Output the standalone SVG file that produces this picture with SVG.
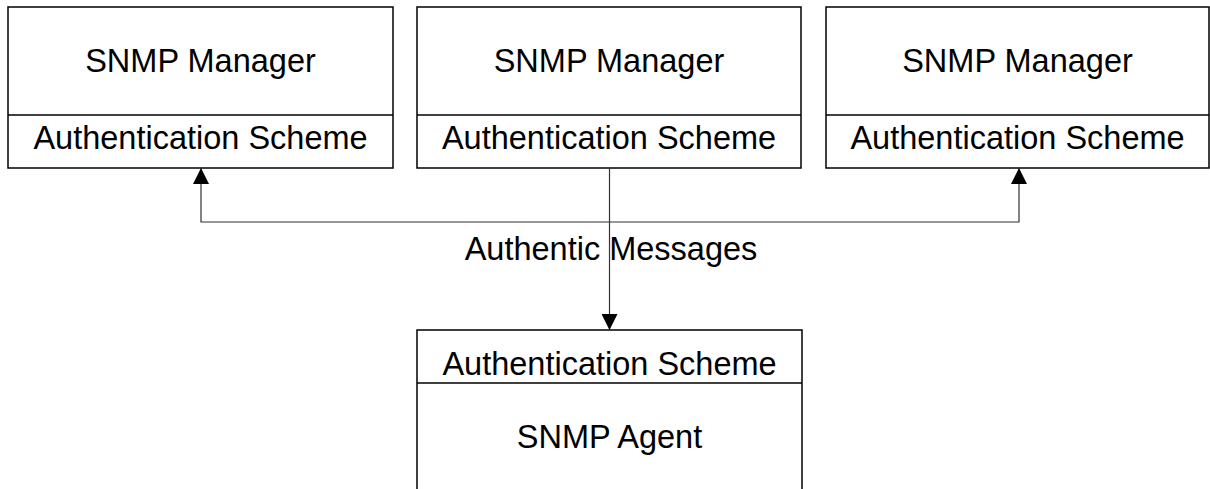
<svg xmlns="http://www.w3.org/2000/svg" width="1210" height="489" viewBox="0 0 1210 489">
<style>
.box{fill:#fff;stroke:#000;stroke-width:1.5}
.t{font-family:"Liberation Sans",Arial,sans-serif;font-size:32.5px;fill:#000;text-anchor:middle}
.c{fill:none;stroke:#333;stroke-width:1.2}
</style>
<defs>
<marker id="ah" viewBox="0 0 16 16" refX="16" refY="8" markerWidth="16" markerHeight="16" markerUnits="userSpaceOnUse" orient="auto">
<path d="M0,0 L16,8 L0,16 Z" fill="#000"/>
</marker>
</defs>
<rect width="1210" height="489" fill="#fff"/>
<g id="manager1">
<rect class="box" x="8" y="7" width="385" height="161"/>
<line class="box" x1="8" y1="115" x2="393" y2="115"/>
<text class="t" x="200.5" y="72">SNMP Manager</text>
<text class="t" x="200.5" y="149">Authentication Scheme</text>
</g>
<g id="manager2">
<rect class="box" x="417" y="7" width="384" height="161"/>
<line class="box" x1="417" y1="115" x2="801" y2="115"/>
<text class="t" x="609" y="72">SNMP Manager</text>
<text class="t" x="609" y="149">Authentication Scheme</text>
</g>
<g id="manager3">
<rect class="box" x="826" y="7" width="383" height="161"/>
<line class="box" x1="826" y1="115" x2="1209" y2="115"/>
<text class="t" x="1017.5" y="72">SNMP Manager</text>
<text class="t" x="1017.5" y="149">Authentication Scheme</text>
</g>
<g id="agent">
<path class="box" d="M417,490 L417,330 L802,330 L802,490"/>
<line class="box" x1="417" y1="383" x2="802" y2="383"/>
<text class="t" x="609.5" y="375">Authentication Scheme</text>
<text class="t" x="609.5" y="448">SNMP Agent</text>
</g>
<g id="connectors">
<path class="c" d="M609.5,168 L609.5,330" marker-end="url(#ah)"/>
<path class="c" d="M609.5,222 L201,222 L201,168" marker-end="url(#ah)"/>
<path class="c" d="M609.5,222 L1019,222 L1019,168" marker-end="url(#ah)"/>
<text class="t" x="611" y="260">Authentic Messages</text>
</g>
</svg>
